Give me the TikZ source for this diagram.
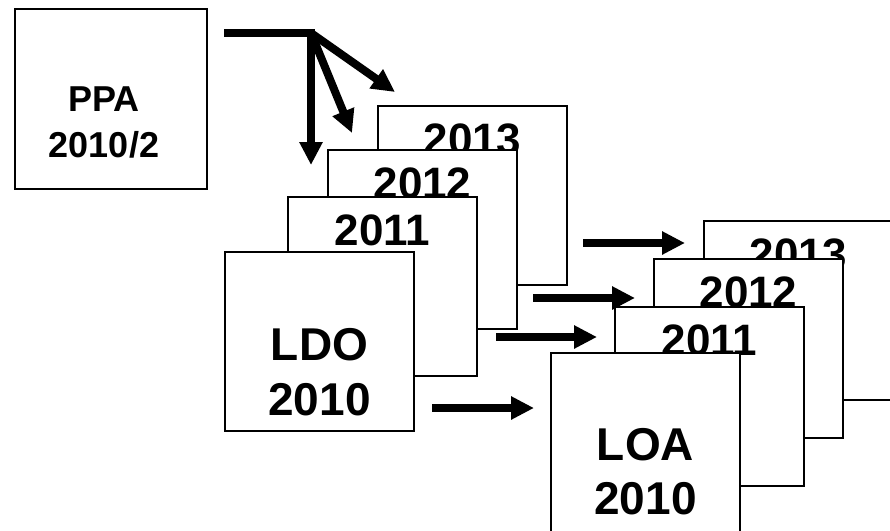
\documentclass[tikz,border=0pt]{standalone}
\usepackage{fontspec}
\setmainfont{Liberation Sans}
\usetikzlibrary{arrows.meta}
\begin{document}
\begin{tikzpicture}[x=1pt,y=-1pt,
  box/.style={draw, line width=1.5pt, fill=white, minimum width=189pt, minimum height=179pt, anchor=north west, inner sep=0pt, outer sep=0pt},
  yr/.style={font=\bfseries\fontsize{44}{44}\selectfont, anchor=base, inner sep=0pt},
  big/.style={font=\bfseries\fontsize{46}{46}\selectfont, anchor=base, inner sep=0pt},
  ppatxt/.style={font=\bfseries\fontsize{36}{36}\selectfont, anchor=base, inner sep=0pt},
  arr/.style={line width=8pt, -{Triangle[length=23pt,width=22pt]}}]
\useasboundingbox (0,0) rectangle (890,530);

% PPA
\node[box, minimum width=192pt, minimum height=180pt] (ppa) at (15,9) {};
\node[ppatxt] (ppa1) at (104,111) {PPA};
\node[ppatxt] (ppa2) at (104,157) {2010/2};

% branching arrows
\coordinate (e0) at (224,33);
\coordinate (corner) at (311,33);
\coordinate (tipdown) at (311,165);
\coordinate (tipmid) at (352,133);
\coordinate (tipright) at (395,92);
\draw[arr, line join=miter] (e0) -- (corner) -- (tipdown);
\draw[arr] (corner) -- (tipmid);
\draw[arr] (corner) -- (tipright);

% LDO stack
\node[box] (ldo13) at (378,106) {};
\node[yr] (ldo13t) at (472.5,154.5) {2013};
\node[box] (ldo12) at (328,150) {};
\node[yr] (ldo12t) at (422.5,198.5) {2012};
\node[box] (ldo11) at (288,197) {};
\node[yr] (ldo11t) at (382.5,245.5) {2011};
\node[box] (ldo) at (225,252) {};
\node[big] (ldo1) at (319.5,360) {LDO};
\begin{scope}
\clip (230,370) rectangle (410,415);
\node[big] (ldo2) at (319.5,415) {2010};
\end{scope}

% LOA stack
\node[box] (loa13) at (704,221) {};
\node[yr] (loa13t) at (798.5,269.5) {2013};
\node[box] (loa12) at (654,259) {};
\node[yr] (loa12t) at (748.5,307.5) {2012};
\node[box] (loa11) at (615,307) {};
\node[yr] (loa11t) at (709.5,355.5) {2011};
\node[box] (loa) at (551,353) {};
\node[big] (loa1) at (645.5,460) {LOA};
\begin{scope}
\clip (556,470) rectangle (736,514);
\node[big] (loa2) at (645.5,514) {2010};
\end{scope}

% horizontal arrows
\coordinate (a1s) at (583,243); \coordinate (a1e) at (685,243);
\coordinate (a2s) at (533,298); \coordinate (a2e) at (635,298);
\coordinate (a3s) at (496,337); \coordinate (a3e) at (597,337);
\coordinate (a4s) at (432,408); \coordinate (a4e) at (534,408);
\draw[arr] (a1s) -- (a1e);
\draw[arr] (a2s) -- (a2e);
\draw[arr] (a3s) -- (a3e);
\draw[arr] (a4s) -- (a4e);
\end{tikzpicture}
\end{document}
